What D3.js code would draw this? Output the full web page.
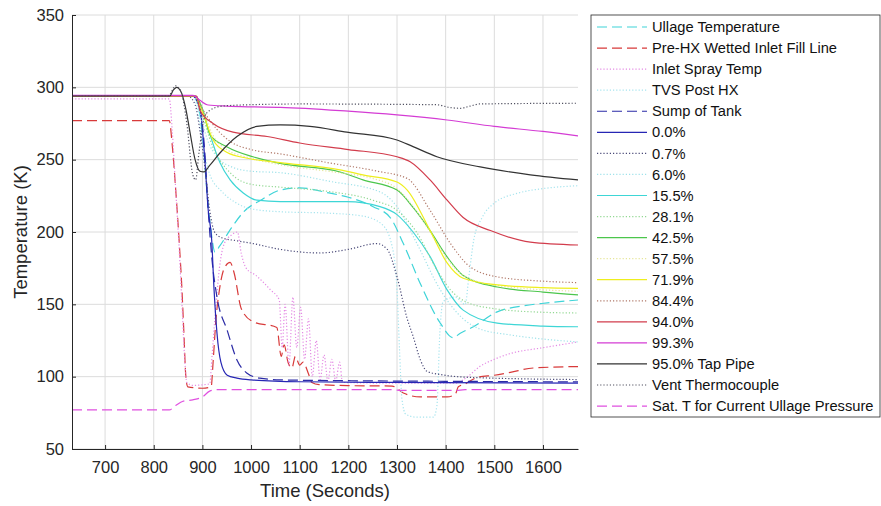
<!DOCTYPE html>
<html>
<head>
<meta charset="utf-8">
<script src="https://cdn.jsdelivr.net/npm/d3@7"></script>
<style>
  body { margin: 0; background: #fff; }
  text { font-family: "Liberation Sans", Arial, sans-serif; }
</style>
</head>
<body>
<div id="chart"></div>
<script>
// tick values
var xTicks = [700, 800, 900, 1000, 1100, 1200, 1300, 1400, 1500, 1600];
var yTicks = [50, 100, 150, 200, 250, 300, 350];

// series, [time (s), temperature (K)]
var ullage = [[632,294],[880,294],[893,285],[903,255],[910,225],[918,200],[926,186],[935,190],[960,203],[985,214],[1020,222],[1060,229],[1100,230.5],[1160,227],[1200,224],[1251,217.5],[1286,210],[1313,192],[1347,165],[1389,137],[1415,127],[1430,130],[1457,134.5],[1506,144.8],[1560,149],[1609,151],[1672,153]];
var preHX = [[632,277],[832,277],[838,260],[845,230],[852,195],[858,160],[862,130],[866,100],[870,93],[900,92],[918,93],[922,110],[928,140],[935,160],[945,175],[957,179],[965,172],[980,147],[1004,138],[1053,134],[1062,114],[1068,122],[1076,110],[1084,106],[1091,114],[1100,108],[1107,110],[1118,102],[1125,96],[1140,94.5],[1200,93.8],[1290,93.5],[1313,88.7],[1348,86],[1403,86],[1420,88],[1426,93],[1440,95],[1465,99.5],[1500,101],[1533,103],[1580,106],[1672,107]];
var inletSpray = [[632,292],[832,292],[838,270],[845,230],[852,190],[858,150],[864,110],[868,96],[880,94],[915,95],[920,115],[928,150],[935,175],[945,192],[960,198],[972,200],[980,185],[990,175],[1010,170],[1040,160],[1058,153],[1064,120],[1070,150],[1078,108],[1086,155],[1094,120],[1102,148],[1110,112],[1118,140],[1126,100],[1134,125],[1142,98],[1150,115],[1158,97],[1166,112],[1174,97],[1182,110],[1188,96],[1300,95.5],[1420,95.5],[1445,100],[1470,107],[1500,112],[1533,116],[1600,120],[1672,124]];
var tvsPostHX = [[632,294],[880,294],[890,285],[900,262],[915,240],[940,228],[970,220],[1000,216],[1060,214],[1160,213],[1230,211],[1270,205],[1290,190],[1300,160],[1305,120],[1310,85],[1318,74],[1340,72],[1375,72],[1382,80],[1388,130],[1395,152],[1420,155],[1440,150],[1448,170],[1458,195],[1475,210],[1500,220],[1550,227],[1600,230],[1672,232]];
var sump = [[632,294],[880,294],[895,285],[905,255],[912,215],[920,180],[930,155],[951,132],[971,111.6],[991,102.6],[1018,99],[1060,97.8],[1200,97.2],[1400,96.8],[1672,96.4]];
var p00 = [[632,294],[880,294],[895,285],[905,250],[912,215],[919,195],[924,160],[930,130],[938,110],[951,101],[971,99],[1000,97.8],[1100,96.5],[1300,96],[1672,95.5]];
var p07 = [[632,294],[870,294],[885,288],[895,270],[905,245],[915,215],[925,200],[940,196],[970,194],[1004,192],[1060,188],[1142,185.5],[1200,188],[1259,192],[1280,188],[1300,169],[1321,140],[1333,128],[1348,111.6],[1362,103.6],[1389,101.5],[1451,99.5],[1672,98]];
var p60 = [[632,294],[882,294],[895,282],[910,264],[930,252],[960,245],[1000,242],[1060,241],[1162,235],[1265,227.7],[1300,217.5],[1341,192],[1389,160],[1436,140],[1470,133],[1530,129],[1600,126],[1672,124]];
var p155 = [[632,294],[885,294],[900,285],[915,268],[936,248],[957,236],[984,227],[1012,222],[1060,221],[1197,221],[1265,217.5],[1300,212],[1333,200],[1368,183],[1403,160],[1436,146],[1506,137],[1600,135],[1672,134.5]];
var p281 = [[632,294],[882,294],[898,282],[920,260],[960,240],[1000,233],[1060,231],[1160,228],[1250,222],[1300,215],[1340,200],[1380,175],[1410,160],[1440,152],[1500,147],[1600,144.5],[1672,144]];
var p425 = [[632,294],[886,294],[900,285],[916,267],[951,258.8],[1004,252],[1060,247.4],[1183,241.5],[1230,236],[1300,229],[1333,217],[1368,201],[1403,182.8],[1436,170],[1506,162],[1600,158.5],[1672,156.5]];
var p575 = [[632,294],[885,294],[900,285],[920,268],[950,257],[1000,251],[1060,246.5],[1180,241],[1250,237],[1300,230],[1330,219],[1368,200],[1400,183],[1436,170],[1506,163],[1672,159]];
var p719 = [[632,294],[884,294],[900,283],[922,263.6],[951,255],[992,251],[1060,248],[1183,243],[1230,239.5],[1300,234.6],[1321,229],[1368,201],[1403,178.6],[1436,168],[1506,163.4],[1600,161.5],[1672,161]];
var p844 = [[632,294],[886,294],[900,285],[920,275],[960,262],[1000,257],[1060,254],[1162,247.7],[1260,242],[1321,237],[1368,215],[1410,192],[1450,176],[1506,169],[1600,166],[1672,165]];
var p940 = [[632,294],[888,294],[895,284],[922,275],[963,269],[1033,266],[1100,261.5],[1200,257],[1300,252],[1327,248.6],[1368,236],[1403,222],[1436,210],[1492,201],[1574,193],[1672,191]];
var p993 = [[632,294.5],[881,294.5],[895,291],[912,287.8],[950,287],[1000,286.5],[1060,286.2],[1200,283.5],[1300,280.9],[1403,277.4],[1500,273],[1600,269.5],[1672,266.4]];
var tapPipe = [[632,294],[833,294],[840,298],[847,300],[856,297],[866,285],[875,268],[885,250],[895,242],[903,241.5],[915,246],[936,254.6],[971,266],[1012,273],[1060,274],[1121,273],[1197,269],[1300,263.6],[1333,259],[1382,252],[1471,245],[1574,239.5],[1672,236]];
var vent = [[632,294],[830,294],[845,301],[855,298],[868,275],[880,240],[886,236],[893,255],[905,280],[915,284],[940,287],[1000,288],[1100,288.5],[1380,288],[1410,286],[1430,285.5],[1450,287],[1470,288.5],[1672,289]];
var satT = [[632,77],[832,77],[845,80],[860,83],[880,84],[900,86],[915,90],[930,91],[1290,91],[1310,90.5],[1420,90.5],[1440,91],[1672,91]];

var names = ["Ullage Temperature", "Pre-HX Wetted Inlet Fill Line", "Inlet Spray Temp", "TVS Post HX",
  "Sump of Tank", "0.0%", "0.7%", "6.0%", "15.5%", "28.1%", "42.5%", "57.5%", "71.9%", "84.4%",
  "94.0%", "99.3%", "95.0% Tap Pipe", "Vent Thermocouple", "Sat. T for Current Ullage Pressure"];
var values = [ullage, preHX, inletSpray, tvsPostHX, sump, p00, p07, p60, p155, p281, p425, p575,
  p719, p844, p940, p993, tapPipe, vent, satT];
var colors = ["#3fd4d8", "#d83a3a", "#e48ae4", "#a6e4ee", "#2b2ba6", "#2626b4", "#4a4a78", "#9fe2ea",
  "#3ed6d6", "#92d892", "#4cc64c", "#e6e69a", "#eeee1e", "#b07868", "#d23c4c", "#d43cd4", "#333333",
  "#505060", "#e050e0"];
var dashes = ["10,5", "10,5", "1.2,2", "1.2,2", "10,5", null, "1.2,2", "1.2,2", null, "1.2,2", null,
  "1.2,2", null, "1.2,2", null, null, null, "1.2,2", "10,5"];

var width = 881, height = 506;
var margin = {top: 15, left: 72, right: 303, bottom: 57};
var plotW = width - margin.left - margin.right;
var plotH = height - margin.top - margin.bottom;

var svg = d3.select("#chart").append("svg")
  .attr("width", width)
  .attr("height", height);

var x = d3.scaleLinear().domain([632, 1672]).range([0, plotW]);
var y = d3.scaleLinear().domain([50, 350]).range([plotH, 0]);

var g = svg.append("g")
  .attr("transform", `translate(${margin.left},${margin.top})`);

// grid
g.append("g").selectAll("line.vx")
  .data(xTicks).enter().append("line")
  .attr("x1", d => x(d)).attr("x2", d => x(d))
  .attr("y1", 0).attr("y2", plotH)
  .attr("stroke", "#dcdcdc").attr("stroke-width", 1);
g.append("g").selectAll("line.hy")
  .data(yTicks).enter().append("line")
  .attr("x1", 0).attr("x2", plotW)
  .attr("y1", d => y(d)).attr("y2", d => y(d))
  .attr("stroke", "#dcdcdc").attr("stroke-width", 1);

svg.append("clipPath").attr("id", "clip")
  .append("rect").attr("width", plotW).attr("height", plotH);

var line = d3.line()
  .x(d => x(d[0]))
  .y(d => y(d[1]))
  .curve(d3.curveMonotoneX);

var lines = g.append("g").attr("clip-path", "url(#clip)");
values.forEach(function(v, i) {
  lines.append("path")
    .datum(v)
    .attr("d", line)
    .attr("fill", "none")
    .attr("stroke", colors[i])
    .attr("stroke-width", 1.2)
    .attr("stroke-dasharray", dashes[i]);
});

// axes
var bottomAxis = d3.axisBottom(x).tickValues(xTicks).tickFormat(d3.format("d"))
  .tickSizeInner(-4).tickSizeOuter(0).tickPadding(12);
var leftAxis = d3.axisLeft(y).tickValues(yTicks).tickFormat(d3.format("d"))
  .tickSizeInner(-4).tickSizeOuter(0).tickPadding(8);

var xa = g.append("g").attr("transform", `translate(0,${plotH})`).call(bottomAxis);
var ya = g.append("g").call(leftAxis);
[xa, ya].forEach(function(a) {
  a.select(".domain").attr("stroke", "#262626");
  a.selectAll(".tick line").attr("stroke", "#262626");
  a.selectAll(".tick text")
    .attr("font-size", 16.5)
    .attr("fill", "#262626")
    .style("font-family", "Liberation Sans, Arial, sans-serif");
});

g.append("text")
  .attr("transform", "rotate(-90)")
  .attr("x", -plotH / 2)
  .attr("y", -45)
  .attr("text-anchor", "middle")
  .attr("font-size", 18.5)
  .attr("fill", "#262626")
  .text("Temperature (K)");

g.append("text")
  .attr("x", plotW / 2)
  .attr("y", plotH + 48)
  .attr("text-anchor", "middle")
  .attr("font-size", 18.5)
  .attr("fill", "#262626")
  .text("Time (Seconds)");

// legend
var lg = svg.append("g").attr("transform", "translate(591,15)");
lg.append("rect")
  .attr("width", 289).attr("height", 402)
  .attr("fill", "#fff")
  .attr("stroke", "#262626").attr("stroke-width", 0.8);

var item = lg.selectAll("g.item")
  .data(names).enter().append("g")
  .attr("transform", (d, i) => `translate(0,${12 + i * 21.06})`);
item.append("line")
  .attr("x1", 6).attr("x2", 56)
  .attr("stroke", (d, i) => colors[i])
  .attr("stroke-width", 1.2)
  .attr("stroke-dasharray", (d, i) => dashes[i]);
item.append("text")
  .attr("x", 61)
  .attr("dy", "0.35em")
  .attr("font-size", 14.7)
  .attr("fill", "#111")
  .text(d => d);
</script>
</body>
</html>
